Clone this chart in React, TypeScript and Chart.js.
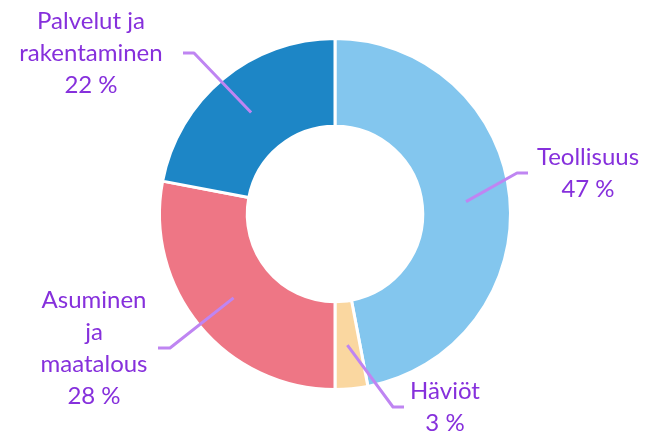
import React, { useEffect, useRef } from "react";
import { Chart, registerables } from "chart.js";

Chart.register(...registerables);

const categories = ["Teollisuus", "Häviöt", "Asuminen ja maatalous", "Palvelut ja rakentaminen"];
const shares = [47, 3, 28, 22];
const labelLines = [
  ["Teollisuus"],
  ["Häviöt"],
  ["Asuminen", "ja", "maatalous"],
  ["Palvelut ja", "rakentaminen"],
];
const colors = ["#83C6EE", "#FAD7A0", "#EE7685", "#1D86C6"];

// leader-line layout: elbow point, end point, text center x
const layout = [
  { elbow: [517, 173], end: [528, 173], tx: 588 },
  { elbow: [393, 407], end: [404, 407], tx: 445 },
  { elbow: [170, 348], end: [158, 348], tx: 94 },
  { elbow: [194, 53], end: [183, 53], tx: 91 },
];

const TEXT_COLOR = "#8630DC";
const LINE_COLOR = "#BF85F2";
const FONT = "24px Lato";
const LINE_H = 32;

const labelPlugin = {
  id: "leaderLabels",
  afterDatasetsDraw(chart: any) {
    const ctx = chart.ctx;
    const meta = chart.getDatasetMeta(0);
    ctx.save();
    meta.data.forEach((arc: any, i: number) => {
      const p = arc.tooltipPosition();
      const l = layout[i];
      ctx.strokeStyle = LINE_COLOR;
      ctx.lineWidth = 3;
      ctx.lineJoin = "round";
      ctx.beginPath();
      ctx.moveTo(p.x, p.y);
      ctx.lineTo(l.elbow[0], l.elbow[1]);
      ctx.lineTo(l.end[0], l.end[1]);
      ctx.stroke();
      const lines = [...labelLines[i], shares[i] + " %"];
      ctx.fillStyle = TEXT_COLOR;
      ctx.font = FONT;
      ctx.textAlign = "center";
      ctx.textBaseline = "middle";
      const total = lines.length * LINE_H;
      const y0 = l.end[1] - total / 2 + LINE_H / 2;
      lines.forEach((t, k) => ctx.fillText(t, l.tx, y0 + k * LINE_H));
    });
    ctx.restore();
  },
};

export default function App() {
  const ref = useRef<HTMLCanvasElement | null>(null);
  useEffect(() => {
    document.body.style.margin = "0";
    const chart = new Chart(ref.current!, {
      type: "doughnut",
      data: {
        labels: categories,
        datasets: [
          {
            data: shares,
            backgroundColor: colors,
            borderColor: "#ffffff",
            borderWidth: 3,
          },
        ],
      },
      options: {
        responsive: false,
        animation: false,
        cutout: "50%",
        layout: { padding: { top: 37, bottom: 44, left: 12, right: 0 } },
        plugins: { legend: { display: false }, tooltip: { enabled: false } },
      },
      plugins: [labelPlugin],
    });
    return () => chart.destroy();
  }, []);
  return (
    <div style={{ position: "absolute", left: 0, top: 0, width: 658, height: 435, background: "#fff" }}>
      <canvas ref={ref} width={658} height={435} />
    </div>
  );
}
